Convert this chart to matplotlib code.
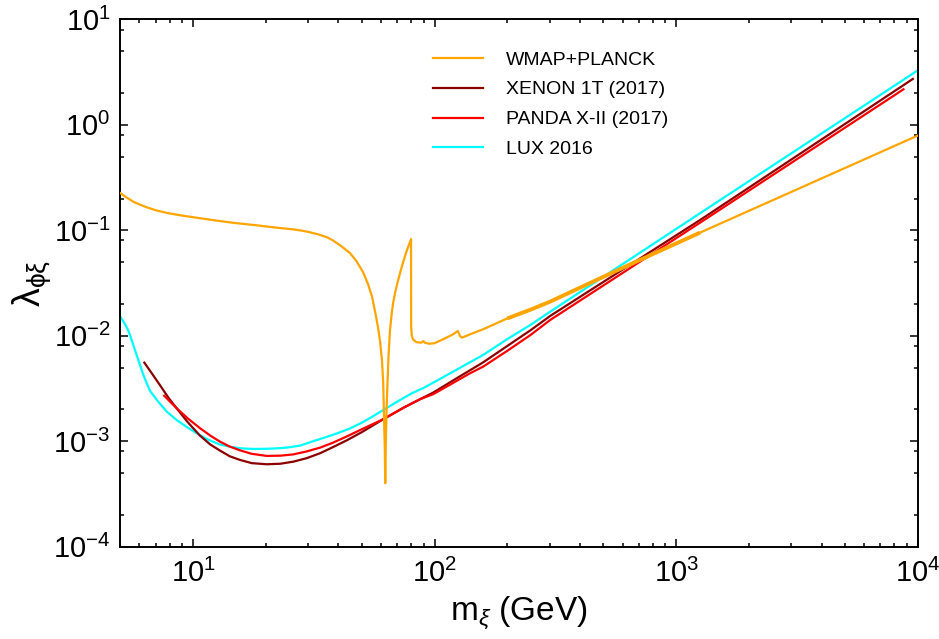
import matplotlib
matplotlib.use("Agg")
import matplotlib.pyplot as plt
from matplotlib import font_manager
from matplotlib.ticker import LogLocator, NullFormatter
import numpy as np

# relic density line (WMAP+PLANCK)
relic_m = [5, 5.3, 5.7, 6.3, 7.0, 7.8, 8.8, 10, 11.5, 13, 15, 18, 22, 26, 28, 30,
           33, 36, 38, 41, 44.6, 47.5, 50.6, 53, 55.1, 57, 58.3, 59.5, 60.6, 61.3,
           61.8, 62.2, 62.5, 62.8, 63.2, 63.8, 64.5, 65.4, 66.5, 67.5, 68.7, 70.5,
           73.2, 76, 78, 79.9, 80.0, 80.5, 81.5, 84, 88, 90, 91, 95, 100, 110,
           120, 124.8, 126, 127.5, 130, 140, 160, 200, 250, 300, 600, 1256, 10000]
relic_lam = [0.225, 0.205, 0.185, 0.168, 0.155, 0.146, 0.139, 0.133, 0.127, 0.122,
             0.117, 0.112, 0.106, 0.102, 0.0995, 0.0965, 0.0915, 0.0855, 0.080,
             0.071, 0.061, 0.051, 0.040, 0.031, 0.0235, 0.016, 0.0121, 0.0088,
             0.0058, 0.0035, 0.0016, 0.0009, 0.0004, 0.0009, 0.0018, 0.0034,
             0.0065, 0.0113, 0.0165, 0.021, 0.0258, 0.033, 0.0453, 0.060, 0.071,
             0.0825, 0.0121, 0.0100, 0.0092, 0.0087, 0.0086, 0.0089, 0.0086,
             0.0084, 0.0085, 0.0094, 0.0104, 0.0111, 0.0106, 0.0099, 0.0096,
             0.0103, 0.0116, 0.0146, 0.0177, 0.021, 0.044, 0.095, 0.79]

# direct detection limits
xenon_m = [6.29, 6.8, 7.3, 7.9, 8.56, 9.5, 10.69, 11.8, 12.94, 14.2, 15.65, 17.5,
           20.2, 23, 26.0, 29.5, 33.6, 38, 43.3, 50, 61.4, 75, 87, 98.9, 120, 140,
           159, 200, 250, 300.9, 1256, 9550]
xenon_lam = [0.00556, 0.0043, 0.0034, 0.0026, 0.00205, 0.00152, 0.00113, 0.00093,
             0.000815, 0.00072, 0.000665, 0.00062, 0.000605, 0.000612, 0.00064,
             0.00069, 0.00077, 0.00088, 0.00102, 0.00122, 0.00162, 0.0021, 0.0025,
             0.0029, 0.0038, 0.0047, 0.0056, 0.0080, 0.0113, 0.0154, 0.125, 2.72]

panda_m = [7.6, 8.42, 9.5, 10.69, 11.8, 12.94, 14.2, 15.65, 17.5, 20.2, 23, 26.0,
           29.5, 33.6, 38, 43.3, 50, 61.4, 75, 87, 98.9, 120, 140, 159, 200, 250,
           300.9, 1256, 8735]
panda_lam = [0.0027, 0.00213, 0.00165, 0.00133, 0.00113, 0.00099, 0.00089,
             0.00082, 0.00076, 0.000726, 0.00073, 0.00075, 0.0008, 0.00087,
             0.00097, 0.00111, 0.0013, 0.00162, 0.0021, 0.0025, 0.0028, 0.0036,
             0.0044, 0.0051, 0.0072, 0.0102, 0.0141, 0.118, 2.17]

lux_m = [5, 5.2, 5.4, 5.6, 5.8, 6.0, 6.22, 6.45, 6.64, 7.18, 7.8, 8.56, 9.4, 10.36,
         11.5, 12.94, 14.5, 16, 17.8, 20, 22, 24.4, 27.8, 31, 35.8, 40, 44.6, 50,
         55, 61.4, 70, 80, 90, 98.9, 120, 140, 159, 200, 250, 300.9, 1256, 9965]
lux_lam = [0.0152, 0.0132, 0.0112, 0.0088, 0.0069, 0.0055, 0.0043, 0.0035, 0.0030,
           0.00237, 0.0019, 0.00159, 0.00137, 0.00119, 0.00104, 0.00093, 0.00088,
           0.000855, 0.000845, 0.000848, 0.000855, 0.00087, 0.00091, 0.00099,
           0.00110, 0.00120, 0.00132, 0.00150, 0.00170, 0.00198, 0.00237, 0.00283,
           0.0032, 0.0036, 0.0046, 0.0056, 0.00658, 0.0093, 0.0127, 0.0169, 0.145,
           3.26]

names = {f.name for f in font_manager.fontManager.ttflist}
axis_font = "Liberation Sans Narrow" if "Liberation Sans Narrow" in names else "Liberation Sans"

plt.rcParams["font.family"] = ["Liberation Sans", "DejaVu Sans"]
plt.rcParams["mathtext.fontset"] = "custom"
plt.rcParams["mathtext.rm"] = axis_font
plt.rcParams["mathtext.it"] = axis_font + ":italic"
plt.rcParams["axes.unicode_minus"] = False

fig = plt.figure(figsize=(9.39, 6.39), dpi=100)
ax = fig.add_axes([0.1281, 0.1444, 0.8492, 0.8254])

lw = 1.6
l_relic, = ax.plot(relic_m, relic_lam, color="#FFA500", lw=lw, zorder=5,
                   label="WMAP+PLANCK")
# the numerical scan gets noisy in this mass range
band = [(m, l) for m, l in zip(relic_m, relic_lam) if 200 <= m <= 1256]
ax.plot([b[0] for b in band], [b[1] for b in band], color="#FFA500", lw=2.8,
        zorder=5, solid_capstyle="butt")
l_xenon, = ax.plot(xenon_m, xenon_lam, color="#8B0000", lw=lw, zorder=3,
                   label="XENON 1T (2017)")
l_panda, = ax.plot(panda_m, panda_lam, color="#FF0000", lw=lw, zorder=4,
                   label="PANDA X-II (2017)")
l_lux, = ax.plot(lux_m, lux_lam, color="#00FFFF", lw=lw, zorder=2,
                 label="LUX 2016")

ax.set_xscale("log")
ax.set_yscale("log")
ax.set_xlim(5, 1e4)
ax.set_ylim(1e-4, 10)

ax.xaxis.set_major_locator(LogLocator(base=10, numticks=10))
ax.xaxis.set_minor_locator(LogLocator(base=10, subs=np.arange(2, 10), numticks=20))
ax.yaxis.set_major_locator(LogLocator(base=10, numticks=10))
ax.yaxis.set_minor_locator(LogLocator(base=10, subs=[2, 5, 8], numticks=20))
ax.xaxis.set_minor_formatter(NullFormatter())
ax.yaxis.set_minor_formatter(NullFormatter())

ax.tick_params(which="both", direction="in", top=True, right=True, width=1.1)
ax.tick_params(which="major", length=5.8, labelsize=21, pad=7)
ax.tick_params(which="minor", length=2.9)
ax.tick_params(axis="x", which="major", pad=9)
for lab in ax.get_xticklabels() + ax.get_yticklabels():
    lab.set_family(axis_font)
for s in ax.spines.values():
    s.set_linewidth(1.4)

ax.set_xlabel(r"$\mathrm{m}_{\xi}$ (GeV)", fontsize=24, family=axis_font, labelpad=4)
ax.set_ylabel(r"$\mathrm{\lambda}_{\mathrm{\phi\xi}}$", fontsize=27, family=axis_font)
ax.yaxis.set_label_coords(-0.085, 0.5)

ax.legend(handles=[l_relic, l_xenon, l_panda, l_lux], frameon=False,
          loc="upper left", bbox_to_anchor=(433 / 939, 1 - 51 / 639),
          bbox_transform=fig.transFigure, borderpad=0, borderaxespad=0,
          handlelength=2.55, handletextpad=1.2, labelspacing=0.63, fontsize=14)

fig.savefig("out.png", dpi=100)
